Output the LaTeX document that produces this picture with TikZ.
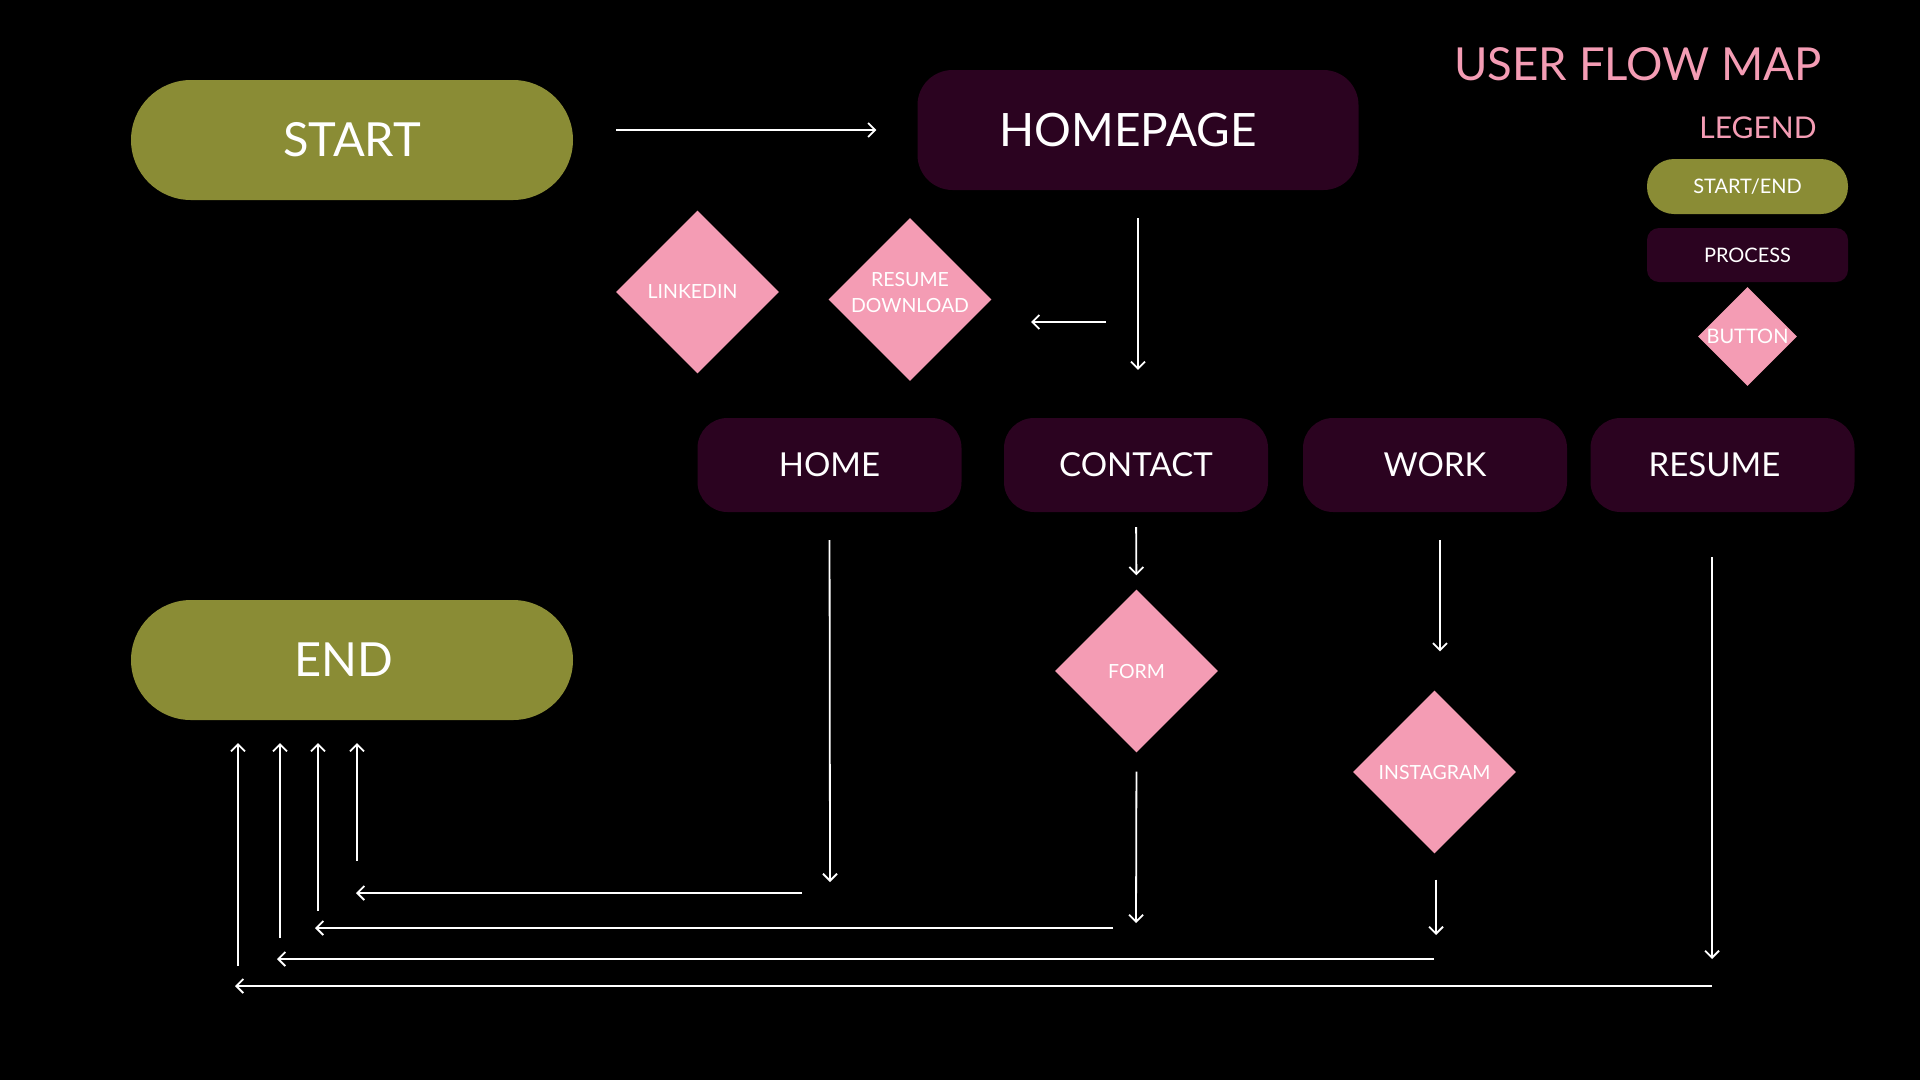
\documentclass[tikz,border=0pt]{standalone}
\usepackage{fontspec}
\setmainfont{Lato}
\usetikzlibrary{shapes.geometric,arrows.meta}
\definecolor{fOlive}{HTML}{8A8C35}
\definecolor{fPurple}{HTML}{2B0320}
\definecolor{fPink}{HTML}{F49CB4}
\tikzset{
  arr/.style={draw=white, line width=1.8pt, -{Straight Barb[length=7pt,width=14pt,line width=1.8pt]}},
  pill/.style={fill=fOlive, rounded corners=60pt, minimum width=442pt, minimum height=120pt, text=white, font=\fontsize{47}{56}\selectfont, inner sep=0pt},
  proc/.style={fill=fPurple, rounded corners=30pt, minimum width=264pt, minimum height=94pt, text=white, font=\fontsize{33}{40}\selectfont, inner sep=0pt},
  btn/.style={diamond, fill=fPink, minimum width=163pt, minimum height=163pt, inner sep=0pt, text=white, font=\fontsize{19.5}{26}\selectfont, align=center},
}
\begin{document}
\begin{tikzpicture}[x=1pt,y=-1pt]
\fill[black] (0,0) rectangle (1920,1080);
\useasboundingbox (0,0) rectangle (1920,1080);

% title and legend
\node[text=fPink, font=\fontsize{45.5}{55}\selectfont, inner sep=0pt] (title) at (1638,64) {USER FLOW MAP};
\node[text=fPink, font=\fontsize{30}{36}\selectfont, inner sep=0pt] (legend) at (1758,128) {LEGEND};
\node[pill, rounded corners=27pt, minimum width=201pt, minimum height=55pt, font=\fontsize{20}{24}\selectfont] (lgstart) at (1747.5,186.5) {START/END};
\node[proc, rounded corners=12pt, minimum width=201pt, minimum height=54pt, font=\fontsize{20}{24}\selectfont] (lgproc) at (1747.5,255) {PROCESS};
\node[btn, minimum width=99pt, minimum height=99pt, font=\fontsize{20}{24}\selectfont] (lgbtn) at (1747.5,336.5) {BUTTON};

% main nodes
\node[pill] (start) at (352,140) {START};
\node[pill] (end) at (352,660) {\hspace*{-16pt}END};
\node[proc, rounded corners=35pt, minimum width=441pt, minimum height=120pt, font=\fontsize{46}{55}\selectfont] (homepage) at (1138,130) {\hspace*{-20pt}HOMEPAGE};
\node[btn] (linkedin) at (697.5,292) {\hspace*{-10pt}LINKEDIN};
\node[btn] (resumedl) at (910,299.5) {\smash{\begin{tabular}{@{}c@{}}RESUME\\DOWNLOAD\end{tabular}}};
\node[proc] (home) at (829.5,465) {HOME};
\node[proc] (contact) at (1136,465) {CONTACT};
\node[proc] (work) at (1435,465) {WORK};
\node[proc] (resume) at (1722.5,465) {\hspace*{-16pt}RESUME};
\node[btn] (form) at (1136.5,671) {FORM};
\node[btn] (instagram) at (1434.5,772) {INSTAGRAM};

% free ends
\coordinate (rdA) at (1106,322);
\coordinate (rdB) at (1031,322);
\coordinate (homeEnd) at (830,882);
\coordinate (formEnd) at (1136,923);
\coordinate (igEnd) at (1436,935);
\coordinate (resA) at (1712,557);
\coordinate (resB) at (1712,959);
\coordinate (h1a) at (802,893);  \coordinate (h1b) at (356,893);
\coordinate (h2a) at (1113,928); \coordinate (h2b) at (315,928);
\coordinate (h3a) at (1434,959); \coordinate (h3b) at (277,959);
\coordinate (h4a) at (1712,986); \coordinate (h4b) at (235,986);
\coordinate (v1a) at (357,861);  \coordinate (v1b) at (357,743);
\coordinate (v2a) at (318,911);  \coordinate (v2b) at (318,743);
\coordinate (v3a) at (280,938);  \coordinate (v3b) at (280,743);
\coordinate (v4a) at (238,966);  \coordinate (v4b) at (238,743);

% connectors
\draw[arr, shorten <=43pt, shorten >=41pt] (start.east |- homepage.west) -- (homepage.west);
\draw[arr] (rdA) -- (rdB);
\draw[arr, shorten <=28pt, shorten >=48pt] (homepage.south) -- (homepage.south |- contact.north);
\draw[arr, shorten <=28pt] (home.south) -- (homeEnd);
\draw[arr, shorten <=15pt, shorten >=14pt] (contact.south) -- (form.north);
\draw[arr, shorten <=19pt] (form.south) -- (formEnd);
\draw[arr, shorten <=28pt, shorten >=39pt] ([xshift=5pt]work.south) -- ([xshift=5pt]work.south |- instagram.north);
\draw[arr, shorten <=26pt] ([xshift=1.5pt]instagram.south) -- (igEnd);
\draw[arr] (resA) -- (resB);
\draw[arr] (h1a) -- (h1b);
\draw[arr] (h2a) -- (h2b);
\draw[arr] (h3a) -- (h3b);
\draw[arr] (h4a) -- (h4b);
\draw[arr] (v1a) -- (v1b);
\draw[arr] (v2a) -- (v2b);
\draw[arr] (v3a) -- (v3b);
\draw[arr] (v4a) -- (v4b);
\end{tikzpicture}
\end{document}
